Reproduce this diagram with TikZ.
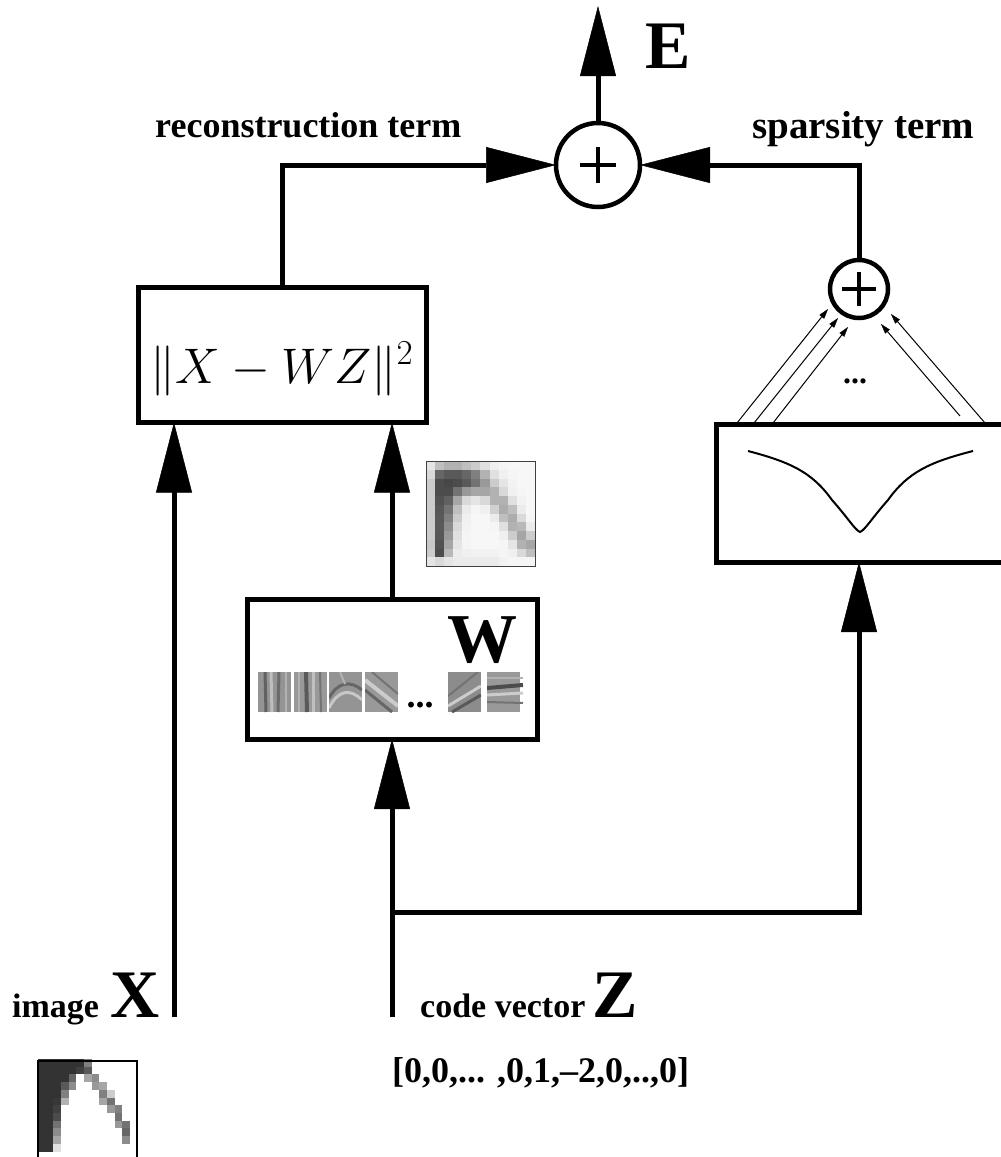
\RequirePackage{fix-cm}
\documentclass[tikz,border=0pt]{standalone}
\usepackage[no-math]{fontspec}
\setmainfont{Liberation Serif}
\usetikzlibrary{arrows.meta}
\begin{document}
\begin{tikzpicture}[x=1pt,y=-1pt,
  boxnode/.style={draw, line width=5pt, rectangle, inner sep=0pt, outer sep=0pt},
  bigarrow/.style={line width=5pt, -{Triangle[length=70pt,width=36pt,line width=0.5pt]}},
  thinarrow/.style={line width=1pt, -{Triangle[length=10pt,width=6pt,line width=0.3pt]}},
  sumnode/.style={circle, draw, line width=4.5pt, inner sep=0pt, outer sep=0pt},
  plusbar/.style={line width=4.5pt},
  lab/.style={inner sep=0pt, anchor=base west},
]
\useasboundingbox (0,0) rectangle (1001,1157);

% ---------- boxes and summing nodes ----------
\node[boxnode, minimum width=288pt, minimum height=135pt] (rbox) at (282,355) {};
\node[anchor=base, inner sep=0pt, font=\fontsize{50}{50}\selectfont] (rtext) at (282,383) {$\|X-WZ\|^2$};
\node[boxnode, minimum width=290pt, minimum height=140pt] (wbox) at (392,669) {};
\node[boxnode, minimum width=296pt, minimum height=138pt] (sbox) at (864,493) {};

\node[sumnode, minimum size=84pt] (bigplus) at (598,165) {};
\node[sumnode, minimum size=58pt] (splus) at (859,289) {};
\draw[plusbar] ([xshift=-18pt]bigplus.center) -- ([xshift=18pt]bigplus.center);
\draw[plusbar] ([yshift=-18pt]bigplus.center) -- ([yshift=18pt]bigplus.center);
\draw[plusbar] ([xshift=-17pt]splus.center) -- ([xshift=17pt]splus.center);
\draw[plusbar] ([yshift=-17pt]splus.center) -- ([yshift=17pt]splus.center);

% ---------- coordinates ----------
\coordinate (etip) at (598,6);
\coordinate (xin) at (174,1017);
\coordinate (zin) at (392,1017);
\coordinate (zsplit) at (392,912);

% ---------- main connectors ----------
\draw[bigarrow] (bigplus.north) -- (etip);
\draw[bigarrow] (rbox.north) |- (bigplus.west);
\draw[bigarrow] (splus.north) |- (bigplus.east);
\draw[bigarrow] (xin) -- (rbox.south -| xin);
\draw[bigarrow] (wbox.north) -- (rbox.south -| wbox.north);
\draw[bigarrow] (zin) -- (wbox.south);
\draw[bigarrow] (zsplit) -| (sbox.south -| splus);

% ---------- thin arrows into small sum ----------
\coordinate (t1s) at (737,423); \coordinate (t1e) at (828,309);
\coordinate (t2s) at (754,423); \coordinate (t2e) at (838,318);
\coordinate (t3s) at (773,423); \coordinate (t3e) at (848,327);
\coordinate (t4s) at (985,423); \coordinate (t4e) at (891,314);
\coordinate (t5s) at (960,416); \coordinate (t5e) at (881,324);
\foreach \i in {1,...,5} {\draw[thinarrow] (t\i s) -- (t\i e);}
\node[inner sep=0pt, anchor=base, font=\bfseries\fontsize{32}{32}\selectfont] (sdots) at (855,383) {...};

% ---------- sparsity curve ----------
\draw[line width=2pt] (748,451) .. controls (790,462) and (812,472) .. (832,500)
  .. controls (848,518) and (855,530) .. (860,532)
  .. controls (865,530) and (872,518) .. (888,500)
  .. controls (908,472) and (930,462) .. (973,451);

% ---------- labels ----------
\node[lab, font=\bfseries\fontsize{68}{68}\selectfont] (elab) at (645,68) {E};
\node[lab, font=\bfseries\fontsize{36}{36}\selectfont] (rlab) at (155,137) {reconstruction term};
\node[lab, font=\bfseries\fontsize{39}{39}\selectfont] (slab) at (752,138) {sparsity term};
\node[lab, font=\bfseries\fontsize{34}{34}\selectfont] (imlab) at (12,1017) {image};
\node[lab, font=\bfseries\fontsize{68}{68}\selectfont] (xlab) at (110,1017) {X};
\node[lab, font=\bfseries\fontsize{34}{34}\selectfont] (cvlab) at (420,1017) {code vector};
\node[lab, font=\bfseries\fontsize{68}{68}\selectfont] (zlab) at (592,1017) {Z};
\node[lab, font=\bfseries\fontsize{36}{36}\selectfont] (veclab) at (392,1082) {[0,0,... ,0,1,--2,0,..,0]};
\node[inner sep=0pt, anchor=base east, font=\bfseries\fontsize{70}{70}\selectfont] (wlab) at (518,662) {W};
\node[inner sep=0pt, anchor=base, font=\bfseries\fontsize{36}{36}\selectfont] (wdots) at (420,707) {...};

% ---------- filter patches in W box ----------
\foreach \x/\b in {258/42, 294/40, 329/42, 365/40, 448/45, 487/40} {\fill[black!\b] (\x,672) rectangle ++(33,40);}
\begin{scope}
  \clip (258,672) rectangle ++(33,40);
  \draw[line width=3pt, black!62] (265,672) -- (266,712);
  \draw[line width=3pt, black!25] (271,672) -- (272,712);
  \draw[line width=3pt, black!58] (279,672) -- (278,712);
  \draw[line width=2pt, black!30] (286,672) -- (286,712);
\end{scope}
\begin{scope}
  \clip (294,672) rectangle ++(33,40);
  \draw[line width=4pt, black!65] (306,672) -- (307,712);
  \draw[line width=3pt, black!25] (313,672) -- (313,712);
  \draw[line width=2pt, black!55] (320,672) -- (321,712);
  \draw[line width=2pt, black!30] (299,672) -- (299,712);
\end{scope}
\begin{scope}
  \clip (329,672) rectangle ++(33,40);
  \draw[line width=3pt, black!22] (329,708) .. controls (338,690) and (350,688) .. (362,700);
  \draw[line width=3pt, black!60] (329,698) .. controls (338,682) and (350,680) .. (362,690);
  \draw[line width=2pt, black!30] (340,672) -- (345,684);
\end{scope}
\begin{scope}
  \clip (365,672) rectangle ++(33,40);
  \draw[line width=4pt, black!20] (365,680) -- (398,706);
  \draw[line width=3pt, black!60] (365,690) -- (392,712);
  \draw[line width=2pt, black!55] (372,672) -- (398,694);
\end{scope}
\begin{scope}
  \clip (448,672) rectangle ++(33,40);
  \draw[line width=3pt, black!20] (448,706) -- (481,686);
  \draw[line width=3pt, black!65] (452,712) -- (481,695);
  \draw[line width=2pt, black!55] (448,696) -- (478,672);
\end{scope}
\begin{scope}
  \clip (487,672) rectangle ++(36,40);
  \draw[line width=4pt, black!70] (487,688) -- (523,685);
  \draw[line width=3pt, black!20] (487,695) -- (523,693);
  \draw[line width=2pt, black!55] (487,702) -- (523,703);
  \draw[line width=2pt, black!30] (487,678) -- (523,678);
\end{scope}

% ---------- reconstruction patch ----------
\foreach \row [count=\r from 0] in {
  {10,25,30,30,25,20,12,6,4,3,3,3},
  {15,60,65,65,60,50,30,12,6,4,3,3},
  {20,70,72,70,65,55,40,20,10,5,3,3},
  {20,70,70,55,40,35,35,30,15,6,4,3},
  {20,68,62,35,15,10,15,30,30,12,5,3},
  {20,66,55,25,8,4,6,18,32,25,8,3},
  {20,65,50,20,6,3,3,8,25,32,15,4},
  {20,65,45,15,5,3,3,4,12,30,28,8},
  {20,66,40,12,4,3,3,3,6,20,35,20},
  {22,68,35,10,4,3,3,3,4,10,30,35},
  {20,70,28,8,6,5,5,5,4,6,15,25},
  {10,15,10,8,8,8,8,8,5,4,4,4}} {
  \foreach \v [count=\c from 0] in \row {
    \fill[black!\v] ({426+\c*9.08},{461+\r*8.75}) rectangle ++(9.3,9);
  }
}
\draw[line width=1pt, black!75] (426,461) rectangle (535,566);

% ---------- input image ----------
\foreach \row [count=\r from 0] in {
  {80,80,80,80,80,80,50,0,0,0,0,0,0},
  {80,80,80,80,80,75,65,0,0,0,0,0,0},
  {80,80,80,80,60,0,35,45,0,0,0,0,0},
  {80,80,80,65,45,0,0,40,35,0,0,0,0},
  {80,80,80,50,0,0,0,0,50,20,0,0,0},
  {80,80,78,30,0,0,0,0,35,55,0,0,0},
  {80,80,75,0,0,0,0,0,0,40,50,0,0},
  {80,80,70,0,0,0,0,0,0,0,55,0,0},
  {80,80,55,0,0,0,0,0,0,0,40,55,0},
  {80,80,45,0,0,0,0,0,0,0,0,60,0},
  {80,80,35,0,0,0,0,0,0,0,0,45,0},
  {80,80,12,0,0,0,0,0,0,0,0,0,0}} {
  \foreach \v [count=\c from 0] in \row {
    \fill[black!\v] ({38+\c*7.65},{1059+\r*7.7}) rectangle ++(7.9,7.95);
  }
}
\draw[line width=1.2pt] (38,1061) rectangle (137,1170);
\end{tikzpicture}
\end{document}
